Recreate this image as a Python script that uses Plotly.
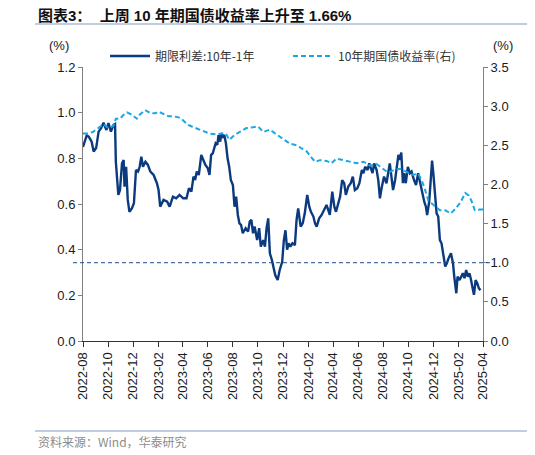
import plotly.graph_objects as go

spread_dates = ["2022-08-01","2022-08-10","2022-08-15","2022-08-22","2022-08-27","2022-09-02","2022-09-08","2022-09-14","2022-09-20","2022-09-27",
"2022-10-02","2022-10-08","2022-10-14","2022-10-18","2022-10-20","2022-10-26","2022-10-30","2022-11-04","2022-11-08","2022-11-10",
"2022-11-14","2022-11-18","2022-11-22","2022-11-28","2022-12-03","2022-12-08","2022-12-13","2022-12-17","2022-12-21","2022-12-25",
"2022-12-31","2023-01-06","2023-01-12","2023-01-20","2023-01-28","2023-02-01","2023-02-05","2023-02-13","2023-02-22","2023-02-28",
"2023-03-08","2023-03-16","2023-03-24","2023-04-02","2023-04-10","2023-04-16","2023-04-22","2023-04-27","2023-05-01","2023-05-05",
"2023-05-10","2023-05-16","2023-05-21","2023-05-26","2023-06-01","2023-06-05","2023-06-09","2023-06-13","2023-06-20","2023-06-24",
"2023-06-27","2023-07-01","2023-07-04","2023-07-08","2023-07-11","2023-07-15","2023-07-19","2023-07-23","2023-07-27","2023-08-01",
"2023-08-05","2023-08-09","2023-08-13","2023-08-17","2023-08-21","2023-08-25","2023-09-01","2023-09-07","2023-09-11","2023-09-15",
"2023-09-19","2023-09-23","2023-09-29","2023-10-04","2023-10-08","2023-10-14","2023-10-18","2023-10-22","2023-10-26","2023-10-30",
"2023-11-04","2023-11-08","2023-11-12","2023-11-18","2023-11-23","2023-11-29","2023-12-03","2023-12-07","2023-12-11","2023-12-15",
"2023-12-19","2023-12-24","2023-12-30","2024-01-03","2024-01-07","2024-01-13","2024-01-18","2024-01-23","2024-01-29","2024-02-03",
"2024-02-07","2024-02-13","2024-02-17","2024-02-21","2024-02-27","2024-03-04","2024-03-09","2024-03-16","2024-03-20","2024-03-24",
"2024-03-30","2024-04-04","2024-04-08","2024-04-12","2024-04-18","2024-04-23","2024-04-28","2024-05-02","2024-05-08","2024-05-14",
"2024-05-19","2024-05-24","2024-05-30","2024-06-04","2024-06-10","2024-06-14","2024-06-18","2024-06-24","2024-06-28","2024-07-02",
"2024-07-06","2024-07-10","2024-07-16","2024-07-20","2024-07-24","2024-07-28","2024-08-03","2024-08-09","2024-08-13","2024-08-17",
"2024-08-21","2024-08-25","2024-08-30","2024-09-03","2024-09-07","2024-09-10","2024-09-14","2024-09-18","2024-09-21","2024-09-25",
"2024-09-30","2024-10-05","2024-10-09","2024-10-15","2024-10-20","2024-10-25","2024-10-29","2024-11-04","2024-11-09","2024-11-13",
"2024-11-16","2024-11-21","2024-11-25","2024-11-28","2024-12-01","2024-12-05","2024-12-09","2024-12-13","2024-12-17","2024-12-21",
"2024-12-25","2024-12-30","2025-01-03","2025-01-07","2025-01-13","2025-01-18","2025-01-21","2025-01-26","2025-01-29","2025-02-03",
"2025-02-07","2025-02-11","2025-02-15","2025-02-19","2025-02-23","2025-02-27","2025-03-02","2025-03-06","2025-03-10","2025-03-14",
"2025-03-18","2025-03-22","2025-03-26"]

spread_values = [0.85,0.90,0.895,0.873,0.83,0.845,0.917,0.932,0.956,0.924,
0.954,0.917,0.946,0.95,0.785,0.64,0.66,0.778,0.793,0.676,
0.763,0.618,0.566,0.581,0.603,0.749,0.742,0.763,0.807,0.763,
0.785,0.771,0.742,0.727,0.691,0.661,0.588,0.618,0.61,0.588,
0.632,0.625,0.64,0.625,0.625,0.669,0.654,0.72,0.705,0.742,
0.727,0.815,0.793,0.771,0.756,0.727,0.815,0.822,0.866,0.859,
0.902,0.873,0.91,0.895,0.902,0.866,0.80,0.763,0.705,0.683,
0.588,0.632,0.552,0.515,0.508,0.472,0.494,0.479,0.523,0.53,
0.472,0.501,0.442,0.494,0.413,0.442,0.413,0.494,0.537,0.384,
0.355,0.318,0.289,0.267,0.311,0.347,0.44,0.485,0.40,0.428,
0.413,0.428,0.42,0.53,0.581,0.501,0.515,0.559,0.64,0.588,
0.566,0.545,0.515,0.501,0.537,0.552,0.574,0.596,0.574,0.552,
0.654,0.588,0.566,0.596,0.632,0.705,0.691,0.64,0.676,0.691,
0.72,0.661,0.669,0.691,0.749,0.735,0.763,0.749,0.778,0.756,
0.735,0.778,0.749,0.705,0.625,0.669,0.72,0.691,0.735,0.778,
0.72,0.661,0.705,0.763,0.815,0.793,0.825,0.691,0.735,0.691,
0.763,0.735,0.742,0.705,0.683,0.735,0.698,0.647,0.61,0.588,
0.552,0.61,0.72,0.79,0.735,0.625,0.559,0.545,0.442,0.428,
0.384,0.326,0.34,0.362,0.384,0.34,0.282,0.209,0.282,0.267,
0.282,0.297,0.275,0.311,0.282,0.297,0.275,0.245,0.202,0.267,
0.253,0.231,0.223]

yield_dates = ["2022-08-01","2022-08-13","2022-08-25","2022-09-08","2022-09-20","2022-10-02","2022-10-14","2022-10-20","2022-10-30","2022-11-08",
"2022-11-16","2022-11-28","2022-12-10","2022-12-17","2022-12-30","2023-01-12","2023-01-24","2023-02-01","2023-02-13","2023-02-25",
"2023-03-08","2023-03-20","2023-03-28","2023-04-06","2023-04-14","2023-04-23","2023-05-03","2023-05-19","2023-06-05","2023-06-21",
"2023-07-03","2023-07-15","2023-07-23","2023-08-05","2023-08-17","2023-09-03","2023-09-19","2023-10-01","2023-10-14","2023-10-30",
"2023-11-12","2023-11-24","2023-12-03","2023-12-18","2024-01-03","2024-01-16","2024-01-28","2024-02-09","2024-02-17","2024-02-29",
"2024-03-16","2024-03-28","2024-04-09","2024-04-26","2024-05-12","2024-05-28","2024-06-14","2024-06-30","2024-07-16","2024-08-01",
"2024-08-13","2024-08-25","2024-09-11","2024-09-27","2024-10-13","2024-10-25","2024-11-03","2024-11-11","2024-11-19","2024-12-01",
"2024-12-09","2024-12-17","2024-12-30","2025-01-13","2025-01-24","2025-02-05","2025-02-17","2025-02-25","2025-03-04","2025-03-12",
"2025-03-25","2025-04-01"]

yield_values = [2.65,2.65,2.67,2.72,2.77,2.72,2.75,2.84,2.84,2.89,
2.92,2.89,2.84,2.89,2.95,2.91,2.91,2.93,2.90,2.87,
2.87,2.86,2.84,2.80,2.76,2.74,2.72,2.68,2.65,2.64,
2.65,2.65,2.57,2.63,2.67,2.72,2.73,2.74,2.67,2.70,
2.65,2.61,2.58,2.52,2.50,2.46,2.42,2.34,2.29,2.31,
2.30,2.27,2.33,2.31,2.29,2.27,2.29,2.24,2.26,2.19,
2.15,2.18,2.20,2.16,2.12,2.14,2.05,1.93,1.79,1.74,
1.71,1.67,1.67,1.63,1.69,1.77,1.89,1.86,1.79,1.67,
1.68,1.68]

left_ticks = [0.0, 0.2, 0.4, 0.6, 0.8, 1.0, 1.2]
right_ticks = [0.0, 0.5, 1.0, 1.5, 2.0, 2.5, 3.0, 3.5]
ref_level_right = 1.0

DARK = "#0B3A7E"
LIGHT = "#1AA7E6"
FONT = "Liberation Sans, Arial, Noto Sans CJK SC, sans-serif"

fig = go.Figure()
fig.add_trace(go.Scatter(x=spread_dates, y=spread_values, mode="lines",
                         name="期限利差:10年-1年", line=dict(color=DARK, width=2.4)))
fig.add_trace(go.Scatter(x=yield_dates, y=yield_values, mode="lines", yaxis="y2",
                         name="10年期国债收益率(右)", line=dict(color=LIGHT, width=2, dash="5px,3px")))

PH = 274.0  # plot height in px

fig.update_layout(
    width=527, height=447,
    margin=dict(l=75, r=52, t=59, b=114),
    paper_bgcolor="white", plot_bgcolor="white",
    font=dict(family=FONT, size=13, color="#1a1a1a"),
    showlegend=True,
    legend=dict(orientation="h", x=0.055, y=1.0 + 11 / PH, xanchor="left", yanchor="middle",
                font=dict(family="Noto Sans CJK SC, sans-serif", size=12, color="#333"),
                bgcolor="rgba(0,0,0,0)", entrywidth=128, entrywidthmode="pixels",
                itemwidth=40, tracegroupgap=0),
    xaxis=dict(type="date", range=["2022-08-01", "2025-04-01"], tick0="2022-08-01", dtick="M2",
               tickformat="%Y-%m", tickangle=-90, ticks="outside", ticklen=5, tickcolor="#333",
               showline=True, linecolor="#333", linewidth=1, showgrid=False, zeroline=False,
               tickfont=dict(size=13, color="#1a1a1a")),
    yaxis=dict(range=[0, 1.2], tickvals=left_ticks, tickformat=".1f", ticks="outside", ticklen=4,
               tickcolor="#808080", showline=True, linecolor="#808080", linewidth=1,
               showgrid=False, zeroline=False, tickfont=dict(size=13, color="#1a1a1a")),
    yaxis2=dict(range=[0, 3.5], tickvals=right_ticks, tickformat=".1f", overlaying="y", side="right",
                ticks="outside", ticklen=4, tickcolor="#808080", showline=True, linecolor="#808080",
                linewidth=1, showgrid=False, zeroline=False, tickfont=dict(size=13, color="#1a1a1a")),
)

# reference dashed horizontal line
fig.add_shape(type="line", xref="paper", yref="y2", x0=-0.025, x1=1.02,
              y0=ref_level_right, y1=ref_level_right,
              line=dict(color="#1F4E8C", width=1, dash="4px,3px"))

# title and rules
fig.add_annotation(xref="paper", yref="paper", x=-0.118, y=1.0 + (67 - 16) / PH, xanchor="left", yanchor="middle",
                   text="<b>图表3：  上周 10 年期国债收益率上升至 1.66%</b>", showarrow=False,
                   font=dict(family="Liberation Sans, Noto Sans CJK SC, sans-serif", size=15, color="#111"))
fig.add_shape(type="line", xref="paper", yref="paper", x0=-0.12, x1=1.13,
              y0=1.0 + (67 - 24) / PH, y1=1.0 + (67 - 24) / PH,
              line=dict(color="#7F9CC4", width=1.2))
fig.add_shape(type="line", xref="paper", yref="paper", x0=-0.12, x1=1.13,
              y0=-(431 - 341) / PH, y1=-(431 - 341) / PH,
              line=dict(color="#7F9CC4", width=1.2))
fig.add_annotation(xref="paper", yref="paper", x=-0.118, y=-(441 - 341) / PH, xanchor="left", yanchor="middle",
                   text="资料来源：Wind，华泰研究", showarrow=False,
                   font=dict(family="Noto Sans CJK SC, sans-serif", size=12, color="#8c8c8c"))
# unit labels
fig.add_annotation(xref="paper", yref="paper", x=-0.06, y=1.0 + (67 - 46) / PH, xanchor="center", yanchor="middle",
                   text="(%)", showarrow=False, font=dict(size=13, color="#1a1a1a"))
fig.add_annotation(xref="paper", yref="paper", x=1.05, y=1.0 + (67 - 46) / PH, xanchor="center", yanchor="middle",
                   text="(%)", showarrow=False, font=dict(size=13, color="#1a1a1a"))

fig.write_html("out.html")
